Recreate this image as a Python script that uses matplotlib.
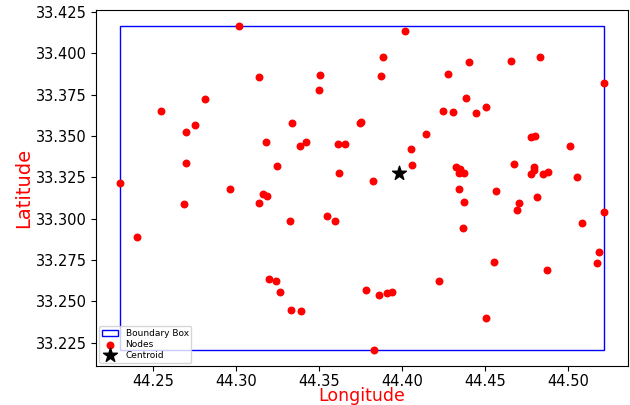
import numpy as np
import matplotlib
matplotlib.use('Agg')
import matplotlib.pyplot as plt
from matplotlib.patches import Rectangle

# node coordinates
lon = [44.3016, 44.3134, 44.3504, 44.3500, 44.2812, 44.2548, 44.2752, 44.2696,
       44.3334, 44.3180, 44.3422, 44.3386, 44.3610, 44.3656, 44.3744, 44.3752,
       44.2698, 44.3242, 44.3616, 44.2298, 44.2962, 44.3158, 44.3182, 44.2686,
       44.3134, 44.3324, 44.3546, 44.3594, 44.2400, 44.3196, 44.3240, 44.3264,
       44.3332, 44.3388, 44.4018, 44.3886, 44.3873, 44.4402, 44.4654, 44.4828,
       44.4276, 44.5216, 44.4386, 44.4506, 44.4244, 44.4304, 44.4446, 44.4142,
       44.4776, 44.4802, 44.5012, 44.4054, 44.4060, 44.3822, 44.4324, 44.4347,
       44.4340, 44.4372, 44.4674, 44.4794, 44.4796, 44.4778, 44.4848, 44.4880,
       44.5056, 44.4340, 44.4568, 44.4814, 44.4370, 44.4706, 44.4694, 44.5216,
       44.5086, 44.4368, 44.5184, 44.5174, 44.4552, 44.4870, 44.4224, 44.3784,
       44.3860, 44.3906, 44.3936, 44.4504, 44.3828]
lat = [33.4164, 33.3858, 33.3868, 33.3781, 33.3725, 33.3652, 33.3570, 33.3522,
       33.3578, 33.3465, 33.3467, 33.3441, 33.3451, 33.3453, 33.3580, 33.3588,
       33.3336, 33.3318, 33.3276, 33.3217, 33.3181, 33.3149, 33.3135, 33.3089,
       33.3093, 33.2988, 33.3016, 33.2984, 33.2888, 33.2636, 33.2622, 33.2557,
       33.2447, 33.2441, 33.4135, 33.3977, 33.3862, 33.3948, 33.3952, 33.3977,
       33.3874, 33.3824, 33.3733, 33.3677, 33.3650, 33.3646, 33.3640, 33.3513,
       33.3495, 33.3501, 33.3441, 33.3423, 33.3328, 33.3228, 33.3312, 33.3304,
       33.3274, 33.3278, 33.3330, 33.3314, 33.3294, 33.3268, 33.3272, 33.3280,
       33.3250, 33.3178, 33.3169, 33.3129, 33.3103, 33.3095, 33.3051, 33.3042,
       33.2976, 33.2942, 33.2801, 33.2734, 33.2739, 33.2688, 33.2624, 33.2571,
       33.2539, 33.2549, 33.2555, 33.2400, 33.2207]
centroid = (44.3982, 33.3278)

lon = np.array(lon)
lat = np.array(lat)

fig = plt.figure(figsize=(6.3, 4.05), dpi=100)
ax = fig.add_axes([0.152, 0.096, 0.845, 0.879])

box = Rectangle((lon.min(), lat.min()), lon.max() - lon.min(), lat.max() - lat.min(),
                fill=False, edgecolor='blue', linewidth=1, label='Boundary Box')
ax.add_patch(box)
ax.scatter(lon, lat, s=22, color='red', label='Nodes', zorder=3)
ax.scatter(centroid[0], centroid[1], s=110, color='black', marker='*',
           label='Centroid', zorder=4)
ax.autoscale_view()

ax.set_xticks([44.25, 44.30, 44.35, 44.40, 44.45, 44.50])
ax.set_yticks(np.arange(33.225, 33.426, 0.025))
ax.xaxis.set_major_formatter(plt.FormatStrFormatter('%.2f'))
ax.yaxis.set_major_formatter(plt.FormatStrFormatter('%.3f'))
ax.tick_params(labelsize=10.5, pad=3)
ax.tick_params(axis='x', pad=2)

ax.set_xlabel('Longitude', color='red', fontsize=12.5, labelpad=-1)
ax.set_ylabel('Latitude', color='red', fontsize=14, labelpad=2)
ax.legend(loc='lower left', fontsize=6.5, borderaxespad=0.4,
          handlelength=1.8, labelspacing=0.2, borderpad=0.3)

fig.savefig('out.png', dpi=100)
